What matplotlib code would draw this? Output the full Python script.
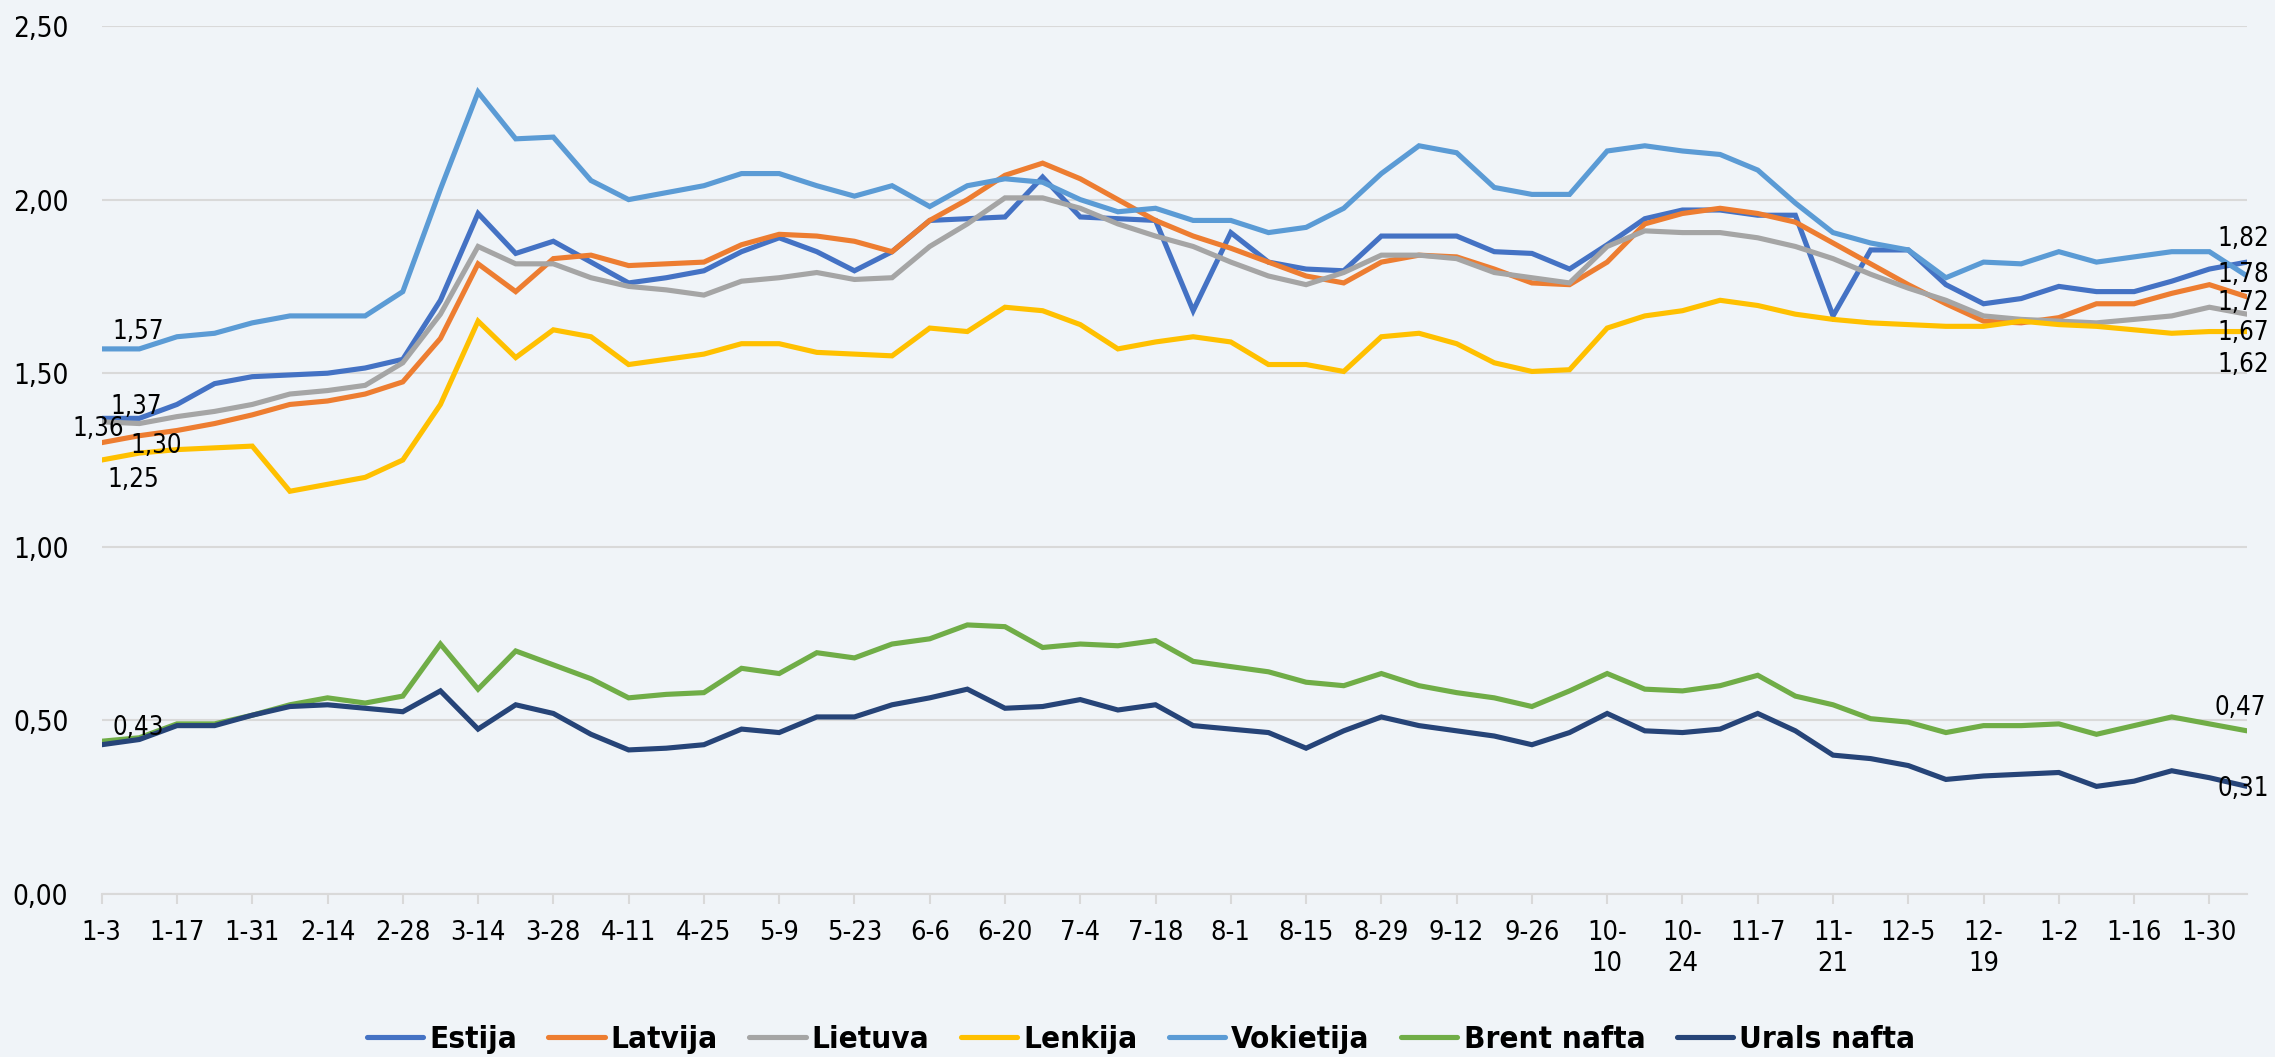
import numpy as np
import matplotlib
matplotlib.use("Agg")
import matplotlib.pyplot as plt

plt.rcParams['font.family'] = ['DejaVu Sans']
plt.rcParams['font.stretch'] = 'condensed'

# weekly dates, 1-3 (2022) .. 2-6 (2023)
tick_labels = ['1-3', '1-17', '1-31', '2-14', '2-28', '3-14', '3-28', '4-11', '4-25',
               '5-9', '5-23', '6-6', '6-20', '7-4', '7-18', '8-1', '8-15', '8-29',
               '9-12', '9-26', '10-\n10', '10-\n24', '11-7', '11-\n21', '12-5',
               '12-\n19', '1-2', '1-16', '1-30']

estija = [1.37, 1.37, 1.41, 1.47, 1.49, 1.495, 1.50, 1.515, 1.54, 1.71,
          1.96, 1.845, 1.88, 1.82, 1.76, 1.775, 1.795, 1.85, 1.89, 1.85,
          1.795, 1.85, 1.94, 1.945, 1.95, 2.065, 1.95, 1.945, 1.94, 1.68,
          1.905, 1.82, 1.80, 1.795, 1.895, 1.895, 1.895, 1.85, 1.845, 1.80,
          1.87, 1.945, 1.97, 1.97, 1.955, 1.955, 1.665, 1.855, 1.855, 1.755,
          1.70, 1.715, 1.75, 1.735, 1.735, 1.765, 1.80, 1.82]
latvija = [1.30, 1.32, 1.335, 1.355, 1.38, 1.41, 1.42, 1.44, 1.475, 1.60,
           1.815, 1.735, 1.83, 1.84, 1.81, 1.815, 1.82, 1.87, 1.90, 1.895,
           1.88, 1.85, 1.94, 2.00, 2.07, 2.105, 2.06, 2.00, 1.94, 1.895,
           1.86, 1.82, 1.78, 1.76, 1.82, 1.84, 1.835, 1.80, 1.76, 1.755,
           1.82, 1.93, 1.96, 1.975, 1.96, 1.935, 1.875, 1.815, 1.755, 1.70,
           1.65, 1.645, 1.66, 1.70, 1.70, 1.73, 1.755, 1.72]
lietuva = [1.36, 1.355, 1.375, 1.39, 1.41, 1.44, 1.45, 1.465, 1.53, 1.67,
           1.865, 1.815, 1.815, 1.775, 1.75, 1.74, 1.725, 1.765, 1.775, 1.79,
           1.77, 1.775, 1.865, 1.93, 2.005, 2.005, 1.975, 1.93, 1.895, 1.865,
           1.82, 1.78, 1.755, 1.79, 1.84, 1.84, 1.83, 1.79, 1.775, 1.76,
           1.865, 1.91, 1.905, 1.905, 1.89, 1.865, 1.83, 1.785, 1.745, 1.71,
           1.665, 1.655, 1.65, 1.645, 1.655, 1.665, 1.69, 1.67]
lenkija = [1.25, 1.27, 1.28, 1.285, 1.29, 1.16, 1.18, 1.20, 1.25, 1.41,
           1.65, 1.545, 1.625, 1.605, 1.525, 1.54, 1.555, 1.585, 1.585, 1.56,
           1.555, 1.55, 1.63, 1.62, 1.69, 1.68, 1.64, 1.57, 1.59, 1.605,
           1.59, 1.525, 1.525, 1.505, 1.605, 1.615, 1.585, 1.53, 1.505, 1.51,
           1.63, 1.665, 1.68, 1.71, 1.695, 1.67, 1.655, 1.645, 1.64, 1.635,
           1.635, 1.65, 1.64, 1.635, 1.625, 1.615, 1.62, 1.62]
vokietija = [1.57, 1.57, 1.605, 1.615, 1.645, 1.665, 1.665, 1.665, 1.735, 2.03,
             2.31, 2.175, 2.18, 2.055, 2.00, 2.02, 2.04, 2.075, 2.075, 2.04,
             2.01, 2.04, 1.98, 2.04, 2.06, 2.05, 2.00, 1.965, 1.975, 1.94,
             1.94, 1.905, 1.92, 1.975, 2.075, 2.155, 2.135, 2.035, 2.015, 2.015,
             2.14, 2.155, 2.14, 2.13, 2.085, 1.99, 1.905, 1.875, 1.855, 1.775,
             1.82, 1.815, 1.85, 1.82, 1.835, 1.85, 1.85, 1.78]
brent = [0.44, 0.45, 0.49, 0.49, 0.515, 0.545, 0.565, 0.55, 0.57, 0.72,
         0.59, 0.70, 0.66, 0.62, 0.565, 0.575, 0.58, 0.65, 0.635, 0.695,
         0.68, 0.72, 0.735, 0.775, 0.77, 0.71, 0.72, 0.715, 0.73, 0.67,
         0.655, 0.64, 0.61, 0.60, 0.635, 0.60, 0.58, 0.565, 0.54, 0.585,
         0.635, 0.59, 0.585, 0.60, 0.63, 0.57, 0.545, 0.505, 0.495, 0.465,
         0.485, 0.485, 0.49, 0.46, 0.485, 0.51, 0.49, 0.47]
urals = [0.43, 0.445, 0.485, 0.485, 0.515, 0.54, 0.545, 0.535, 0.525, 0.585,
         0.475, 0.545, 0.52, 0.46, 0.415, 0.42, 0.43, 0.475, 0.465, 0.51,
         0.51, 0.545, 0.565, 0.59, 0.535, 0.54, 0.56, 0.53, 0.545, 0.485,
         0.475, 0.465, 0.42, 0.47, 0.51, 0.485, 0.47, 0.455, 0.43, 0.465,
         0.52, 0.47, 0.465, 0.475, 0.52, 0.47, 0.40, 0.39, 0.37, 0.33,
         0.34, 0.345, 0.35, 0.31, 0.325, 0.355, 0.335, 0.31]

series = [
    ('Estija', estija, '#4472C4'),
    ('Latvija', latvija, '#ED7D31'),
    ('Lietuva', lietuva, '#A5A5A5'),
    ('Lenkija', lenkija, '#FFC000'),
    ('Vokietija', vokietija, '#5B9BD5'),
    ('Brent nafta', brent, '#70AD47'),
    ('Urals nafta', urals, '#264478'),
]

# data labels: (series name, first/last point, offset in pixels)
labels = [
    ('Vokietija', 0, (37, 17)), ('Estija', 0, (35, 11)), ('Lietuva', 0, (-3, -7)),
    ('Latvija', 0, (54, -3)), ('Lenkija', 0, (32, -20)), ('Urals nafta', 0, (37, 17)),
    ('Estija', -1, (-4, 23)), ('Vokietija', -1, (-4, 1)), ('Latvija', -1, (-4, -6)),
    ('Lietuva', -1, (-4, -19)), ('Lenkija', -1, (-4, -33)),
    ('Brent nafta', -1, (-7, 23)), ('Urals nafta', -1, (-4, -3)),
]

bg = '#F0F4F8'
fig = plt.figure(figsize=(22.75, 10.57), dpi=100, facecolor=bg)
ax = fig.add_axes([0.0447, 0.1542, 0.9430, 0.8212], facecolor=bg)

x = np.arange(len(estija))
for name, vals, col in series:
    ax.plot(x, vals, color=col, lw=3.7, label=name, solid_joinstyle='miter',
            solid_capstyle='round')

data = {name: vals for name, vals, col in series}
for name, idx, off in labels:
    v = data[name][idx]
    ax.annotate(f'{v:.2f}'.replace('.', ','), (x[idx], v), xytext=off,
                textcoords='offset pixels', ha='center', va='center',
                fontsize=18.5, color='black', annotation_clip=False)

ax.set_xlim(0, len(x) - 1)
ax.set_ylim(0, 2.5)
yt = np.arange(0, 2.51, 0.5)
ax.set_yticks(yt)
ax.set_yticklabels([f'{v:.2f}'.replace('.', ',') for v in yt])
ax.set_xticks(x[::2])
ax.set_xticklabels(tick_labels, va='top', linespacing=1.25)

ax.grid(axis='y', color='#D9D9D9', lw=1.5)
ax.set_axisbelow(True)
for s in ['top', 'right', 'left']:
    ax.spines[s].set_visible(False)
ax.spines['bottom'].set_color('#D9D9D9')
ax.spines['bottom'].set_linewidth(1.5)
ax.tick_params(axis='y', length=0, pad=24, labelsize=20, colors='black')
ax.tick_params(axis='x', length=7, width=1.5, color='#D9D9D9', pad=12,
               labelsize=19.5, labelcolor='black')

fig.legend(loc='center', bbox_to_anchor=(0.5015, 0.017), ncol=7, frameon=False,
           prop={'weight': 'bold', 'size': 22.5}, handlelength=1.8,
           handletextpad=0.2, columnspacing=1.0)

fig.savefig('out.png', dpi=100, facecolor=bg)
